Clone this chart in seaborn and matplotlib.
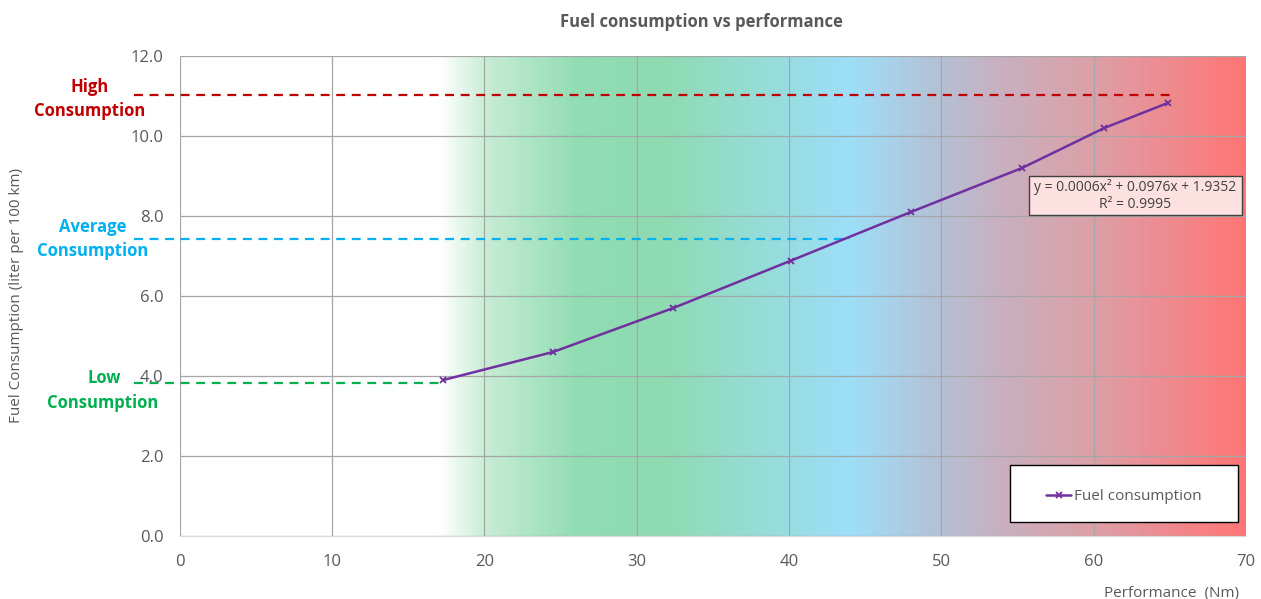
import numpy as np
import pandas as pd
import matplotlib
matplotlib.use("Agg")
import matplotlib.pyplot as plt
import seaborn as sns
from matplotlib.colors import LinearSegmentedColormap
from matplotlib.patches import Rectangle

# --- data ---
performance = [17.3, 24.5, 32.4, 40.1, 48.0, 55.3, 60.7, 64.9]
consumption = [3.9, 4.6, 5.7, 6.88, 8.1, 9.2, 10.2, 10.83]

# reference levels
level_names = ["High", "Average", "Low"]
level_values = [11.03, 7.43, 3.83]
level_ends = [65.0, 44.0, 17.3]
level_colors = ["#c00000", "#00b0f0", "#00b050"]

x_ticks = [0, 10, 20, 30, 40, 50, 60, 70]
y_ticks = [0, 2, 4, 6, 8, 10, 12]

# background gradient stops (performance position, colour)
grad_pos = [0, 17, 20, 26, 31.5, 40.7, 44, 50, 54, 60, 70]
grad_col = ["#ffffff", "#ffffff", "#c8ecd6", "#92ddb3", "#8edbb1", "#99dde6",
            "#9ddff8", "#b5c0d5", "#c8b0c0", "#dca0a8", "#ff7676"]

df = pd.DataFrame({"Performance": performance, "Consumption": consumption})

sns.set_style("white")
plt.rcParams["font.family"] = ["Open Sans", "DejaVu Sans"]
GREY = "#595959"
W, H = 1261, 599

fig = plt.figure(figsize=(12.61, 5.99), dpi=100)
ax = fig.add_axes([0.1427, 0.1052, 0.8453, 0.8013])

# gradient background
cmap = LinearSegmentedColormap.from_list(
    "bg", list(zip(np.array(grad_pos) / 70.0, grad_col)))
ax.imshow(np.linspace(0, 1, 700).reshape(1, -1), cmap=cmap, aspect="auto",
          extent=[0, 70, 0, 12], zorder=0, interpolation="bilinear")

sns.lineplot(data=df, x="Performance", y="Consumption", ax=ax, color="#7030a0",
             linewidth=1.8, marker="x", markersize=5, markeredgewidth=1.3,
             markeredgecolor="#7030a0", label="Fuel consumption", zorder=4)

# reference dashed lines extending left of the axis
for yv, xe, c in zip(level_values, level_ends, level_colors):
    ax.plot([-3.0, xe], [yv, yv], ls=(0, (4, 3)), color=c, lw=1.6,
            clip_on=False, zorder=3)

# level labels (pixel centres from the reference)
label_px = [((90, 87), (90, 111)), ((93, 227), (93, 251)), ((104, 378), (103, 403))]
for name, c, (p1, p2) in zip(level_names, level_colors, label_px):
    fig.text(p1[0] / W, 1 - p1[1] / H, name, color=c, fontsize=12,
             fontweight="bold", ha="center", va="center")
    fig.text(p2[0] / W, 1 - p2[1] / H, "Consumption", color=c, fontsize=12,
             fontweight="bold", ha="center", va="center")

ax.set_xlim(0, 70)
ax.set_ylim(0, 12)
ax.set_xticks(x_ticks)
ax.set_yticks(y_ticks)
ax.set_yticklabels([f"{v:.1f}" for v in y_ticks])
ax.tick_params(colors=GREY, labelsize=12, length=0)
ax.tick_params(axis="x", pad=13)
ax.tick_params(axis="y", pad=12)
ax.grid(True, color="#a6a6a6", lw=0.9, zorder=1)
ax.set_axisbelow(False)
for s in ["top", "right", "left"]:
    ax.spines[s].set_visible(False)
ax.spines["bottom"].set_color("#d9d9d9")

ax.set_xlabel("Performance  (Nm)", color=GREY, fontsize=11, loc="right")
ax.xaxis.set_label_coords(0.994, -0.105)
ax.set_ylabel("Fuel Consumption (liter per 100 km)", color=GREY, fontsize=11)
ax.yaxis.set_label_coords(-0.146, 0.5)
fig.text(701 / W, 1 - 22 / H, "Fuel consumption vs performance", color=GREY,
         fontsize=12, fontweight="bold", ha="center", va="center")

# trendline equation box
ax.add_patch(Rectangle((0.797, 0.669), 0.199, 0.081, transform=ax.transAxes,
                       facecolor="#fde0e0", edgecolor="#404040", lw=1, zorder=5))
ax.text(0.8965, 0.7095, "y = 0.0006x² + 0.0976x + 1.9352\nR² = 0.9995",
        transform=ax.transAxes, ha="center", va="center", fontsize=10,
        color="#404040", zorder=6, linespacing=1.2)

# legend inside a white rectangle
ax.add_patch(Rectangle((0.7786, 0.029), 0.2139, 0.119, transform=ax.transAxes,
                       facecolor="white", edgecolor="black", lw=1, zorder=5))
leg = ax.legend(loc="center", bbox_to_anchor=(0.7786, 0.023, 0.2139, 0.119),
                frameon=False, fontsize=11, handlelength=1.6, handletextpad=0.2)
leg.set_zorder(6)
for t in leg.get_texts():
    t.set_color(GREY)

fig.savefig("out.png", dpi=100)
